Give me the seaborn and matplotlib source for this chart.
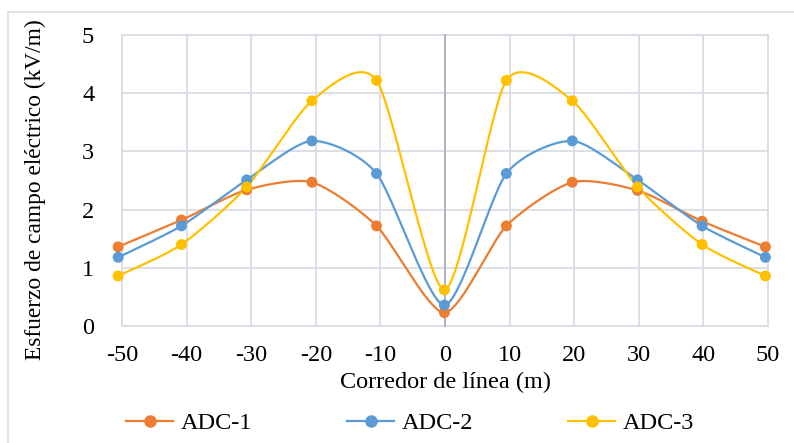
import numpy as np
import pandas as pd
import seaborn as sns
import matplotlib
matplotlib.use("Agg")
import matplotlib.pyplot as plt
from matplotlib.lines import Line2D

# ---- data ----
x_pos = [-50.6, -40.8, -30.7, -20.6, -10.6, -0.1, 9.5, 19.7, 29.8, 39.8, 49.6]
adc1 = [1.36, 1.82, 2.34, 2.47, 1.72, 0.23, 1.72, 2.47, 2.33, 1.80, 1.36]
adc2 = [1.18, 1.72, 2.51, 3.18, 2.62, 0.36, 2.62, 3.18, 2.51, 1.72, 1.18]
adc3 = [0.86, 1.40, 2.39, 3.87, 4.22, 0.62, 4.22, 3.87, 2.39, 1.40, 0.86]
series_names = ["ADC-1", "ADC-2", "ADC-3"]
colors = ["#ED7D31", "#5B9BD5", "#FFC000"]
x_ticks = [-50, -40, -30, -20, -10, 0, 10, 20, 30, 40, 50]
y_ticks = [0, 1, 2, 3, 4, 5]

W, H = 794, 443
fig = plt.figure(figsize=(W / 100, H / 100), dpi=100)
ax = fig.add_axes([122 / W, 1 - 326 / H, (768 - 122) / W, (326 - 35) / H])
ax.set_xlim(-50, 50)
ax.set_ylim(0, 5)

# pixel scale for Excel-like smoothing
sx = (768 - 122) / 100.0
sy = (326 - 35) / 5.0


def excel_smooth(xs, ys, n=60, base=0.12):
    P = np.column_stack([np.array(xs) * sx, np.array(ys) * sy])
    Pe = np.vstack([P[0], P, P[-1]])
    out = []
    for i in range(len(P) - 1):
        p0, p1, p2, p3 = Pe[i], Pe[i + 1], Pe[i + 2], Pe[i + 3]
        d02 = np.linalg.norm(p2 - p0)
        d12 = np.linalg.norm(p2 - p1)
        d13 = np.linalg.norm(p3 - p1)
        f1 = base
        f2 = base
        if d02 * base >= d12 / 2 and d02 > 0:
            f1 = d12 / d02 / 2
        if d13 * base >= d12 / 2 and d13 > 0:
            f2 = d12 / d13 / 2
        c1 = p1 + (p2 - p0) * f1
        c2 = p2 - (p3 - p1) * f2
        t = np.linspace(0, 1, n)[:, None]
        seg = (1 - t) ** 3 * p1 + 3 * (1 - t) ** 2 * t * c1 + 3 * (1 - t) * t ** 2 * c2 + t ** 3 * p2
        out.append(seg if i == 0 else seg[1:])
    arr = np.vstack(out)
    return arr[:, 0] / sx, arr[:, 1] / sy


curves = []
points = []
for name, ys in zip(series_names, [adc1, adc2, adc3]):
    cx, cy = excel_smooth(x_pos, ys)
    curves.append(pd.DataFrame({"x": cx, "y": cy, "serie": name}))
    points.append(pd.DataFrame({"x": x_pos, "y": ys, "serie": name}))
curve_df = pd.concat(curves, ignore_index=True)
point_df = pd.concat(points, ignore_index=True)
pal = dict(zip(series_names, colors))

# grid
grid_c = "#D9DDE4"
for xt in x_ticks:
    ax.axvline(xt, color=grid_c, lw=1.3, zorder=0)
for yt in y_ticks:
    ax.axhline(yt, color=grid_c, lw=1.3, zorder=0)
ax.axvline(0, color="#A9B1BF", lw=1.3, zorder=1)

sns.lineplot(data=curve_df, x="x", y="y", hue="serie", palette=pal, sort=False,
             estimator=None, units="serie", lw=1.6, legend=False, ax=ax, zorder=3)
sns.scatterplot(data=point_df, x="x", y="y", hue="serie", palette=pal, s=62,
                edgecolor="none", legend=False, ax=ax, zorder=4)
for art in ax.lines + ax.collections:
    art.set_clip_on(False)

for s in ax.spines.values():
    s.set_visible(False)
ax.tick_params(length=0)
ax.set_xticks(x_ticks)
ax.set_yticks(y_ticks)
serif = "Liberation Serif"
fs = 17.5
ax.set_xticklabels([str(v) for v in x_ticks], family=serif, fontsize=fs)
ax.set_yticklabels([str(v) for v in y_ticks], family=serif, fontsize=fs)
ax.tick_params(axis="x", pad=14)
ax.tick_params(axis="y", pad=20)
ax.set_xlabel("Corredor de línea (m)", family=serif, fontsize=fs, labelpad=4)
ax.set_ylabel("Esfuerzo de campo eléctrico (kV/m)", family=serif, fontsize=16.8)
ax.yaxis.set_label_coords(-0.118, 0.467)
ax.set_facecolor("white")

# outer border (top and left edges visible in the reference)
border_c = "#D9DDE4"
fig.add_artist(Line2D([8 / W, 1], [1 - 12 / H, 1 - 12 / H], transform=fig.transFigure, color=border_c, lw=1.2))
fig.add_artist(Line2D([8 / W, 8 / W], [0, 1 - 12 / H], transform=fig.transFigure, color=border_c, lw=1.2))

handles = [Line2D([0], [0], color=c, lw=1.6, marker="o", markersize=8) for c in colors]
fig.legend(handles, series_names, loc="center", bbox_to_anchor=(410 / W, 1 - 423 / H), ncol=3,
           frameon=False, prop={"family": serif, "size": fs}, handlelength=1.95,
           columnspacing=3.9, handletextpad=0.3, borderpad=0, borderaxespad=0)

fig.savefig("out.png", dpi=100)
